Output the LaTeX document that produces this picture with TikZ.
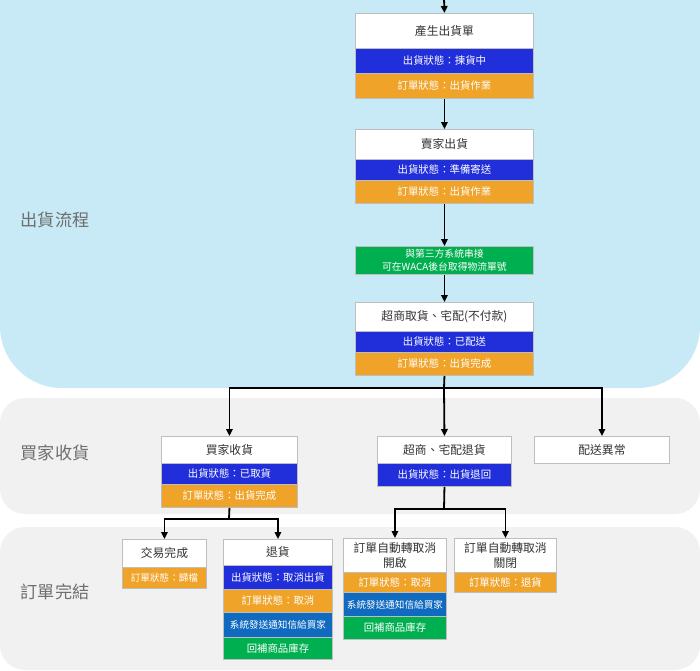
\documentclass[tikz,border=0pt]{standalone}
\usepackage{fontspec}
\setmainfont{Noto Sans CJK TC}
\usetikzlibrary{arrows.meta}
\definecolor{bandblue}{RGB}{199,234,246}
\definecolor{bandgray}{RGB}{241,241,241}
\definecolor{cblue}{RGB}{33,47,218}
\definecolor{corange}{RGB}{240,163,41}
\definecolor{cgreen}{RGB}{0,176,80}
\definecolor{cdblue}{RGB}{16,106,192}
\definecolor{boxline}{RGB}{190,190,190}
\definecolor{lbl}{RGB}{110,110,110}
\definecolor{ttl}{RGB}{51,51,51}
\tikzset{
  base/.style={draw=boxline, line width=0.9pt, anchor=north west, inner sep=0pt, align=center},
  ttlbox/.style={base, fill=white, text=ttl, font=\fontsize{11.8}{15}\selectfont},
  bluebox/.style={base, fill=cblue, text=white, font=\fontsize{10.4}{12}\selectfont},
  orangebox/.style={base, fill=corange, text=white, font=\fontsize{10.4}{12}\selectfont},
  greenbox/.style={base, fill=cgreen, text=white, font=\fontsize{10.4}{12}\selectfont},
  dbluebox/.style={base, fill=cdblue, text=white, font=\fontsize{9.6}{12}\selectfont},
  lanelabel/.style={text=lbl, font=\fontsize{17.2}{20}\selectfont},
  conn/.style={line width=1.8pt, black},
  arr/.style={conn, -{Triangle[length=7pt,width=6.5pt]}},
}
\begin{document}
\begin{tikzpicture}[x=1pt, y=-1pt]
\useasboundingbox (0,0) rectangle (700,670);
% lanes
\fill[bandblue, rounded corners=62pt] (0,-70) rectangle (700,388);
\fill[bandgray, rounded corners=25pt] (0,398) rectangle (700,514);
\fill[bandgray, rounded corners=25pt] (0,527) rectangle (700,670);
\node[lanelabel] (L1) at (55,220) {出貨流程};
\node[lanelabel] (L2) at (55,453) {買家收貨};
\node[lanelabel] (L3) at (55,592) {訂單完結};
% main flow
\node[ttlbox, minimum width=178, minimum height=35] (n1t) at (355,13) {產生出貨單};
\node[bluebox, minimum width=178, minimum height=25] (n1b) at (355,48) {出貨狀態：揀貨中};
\node[orangebox, minimum width=178, minimum height=25] (n1o) at (355,73) {訂單狀態：出貨作業};
\node[ttlbox, minimum width=178, minimum height=30] (n2t) at (355,129) {賣家出貨};
\node[bluebox, minimum width=178, minimum height=21] (n2b) at (355,159) {出貨狀態：準備寄送};
\node[orangebox, minimum width=178, minimum height=23] (n2o) at (355,180) {訂單狀態：出貨作業};
\node[greenbox, minimum width=178, minimum height=28, font=\fontsize{9.8}{12.5}\selectfont] (g) at (355,246) {與第三方系統串接\\可在WACA後台取得物流單號};
\node[ttlbox, minimum width=178, minimum height=29] (n4t) at (355,302) {超商取貨、宅配(不付款)};
\node[bluebox, minimum width=178, minimum height=21] (n4b) at (355,331) {出貨狀態：已配送};
\node[orangebox, minimum width=178, minimum height=23] (n4o) at (355,352) {訂單狀態：出貨完成};
% second row
\node[ttlbox, minimum width=136, minimum height=27] (b1t) at (161,436) {買家收貨};
\node[bluebox, minimum width=136, minimum height=21] (b1b) at (161,463) {出貨狀態：已取貨};
\node[orangebox, minimum width=136, minimum height=23] (b1o) at (161,484) {訂單狀態：出貨完成};
\node[ttlbox, minimum width=134, minimum height=27] (b2t) at (377,436) {超商、宅配退貨};
\node[bluebox, minimum width=134, minimum height=23] (b2b) at (377,463) {出貨狀態：出貨退回};
\node[ttlbox, minimum width=135, minimum height=27] (b3) at (534,436) {配送異常};
% third row
\node[ttlbox, minimum width=84, minimum height=28] (c1t) at (122,539) {交易完成};
\node[orangebox, minimum width=84, minimum height=21, font=\fontsize{9.6}{12}\selectfont] (c1o) at (122,567) {訂單狀態：歸檔};
\node[ttlbox, minimum width=109, minimum height=26] (c2t) at (223,539) {退貨};
\node[bluebox, minimum width=109, minimum height=24] (c2b) at (223,565) {出貨狀態：取消出貨};
\node[orangebox, minimum width=109, minimum height=23] (c2o) at (223,589) {訂單狀態：取消};
\node[dbluebox, minimum width=109, minimum height=25] (c2d) at (223,612) {系統發送通知信給買家};
\node[greenbox, minimum width=109, minimum height=22] (c2g) at (223,637) {回補商品庫存};
\node[ttlbox, minimum width=103, minimum height=34] (c3t) at (343,538) {訂單自動轉取消\\開啟};
\node[orangebox, minimum width=103, minimum height=20] (c3o) at (343,572) {訂單狀態：取消};
\node[dbluebox, minimum width=103, minimum height=24] (c3d) at (343,592) {系統發送通知信給買家};
\node[greenbox, minimum width=103, minimum height=23] (c3g) at (343,616) {回補商品庫存};
\node[ttlbox, minimum width=102, minimum height=34] (c4t) at (454,538) {訂單自動轉取消\\關閉};
\node[orangebox, minimum width=102, minimum height=20] (c4o) at (454,572) {訂單狀態：退貨};
% connectors
\coordinate (top) at (444,-2);
\coordinate (j1) at (444,388);
\coordinate (j2) at (229,519);
\coordinate (j3) at (444,509);
\draw[arr] (top) -- (n1t.north);
\draw[arr] (n1o.south) -- (n2t.north);
\draw[arr] (n2o.south) -- (g.north);
\draw[arr] (g.south) -- (n4t.north);
\draw[conn] (n4o.south) -- (j1);
\draw[arr] (j1) -| (b1t.north);
\draw[arr] (j1) -- (b2t.north);
\draw[arr] (j1) -| (b3.north);
\draw[conn] (b1o.south) -- (j2);
\draw[arr] (j2) -| (c1t.north);
\draw[arr] (j2) -| (c2t.north);
\draw[conn] (b2b.south) -- (j3);
\draw[arr] (j3) -| (c3t.north);
\draw[arr] (j3) -| (c4t.north);
\end{tikzpicture}
\end{document}
